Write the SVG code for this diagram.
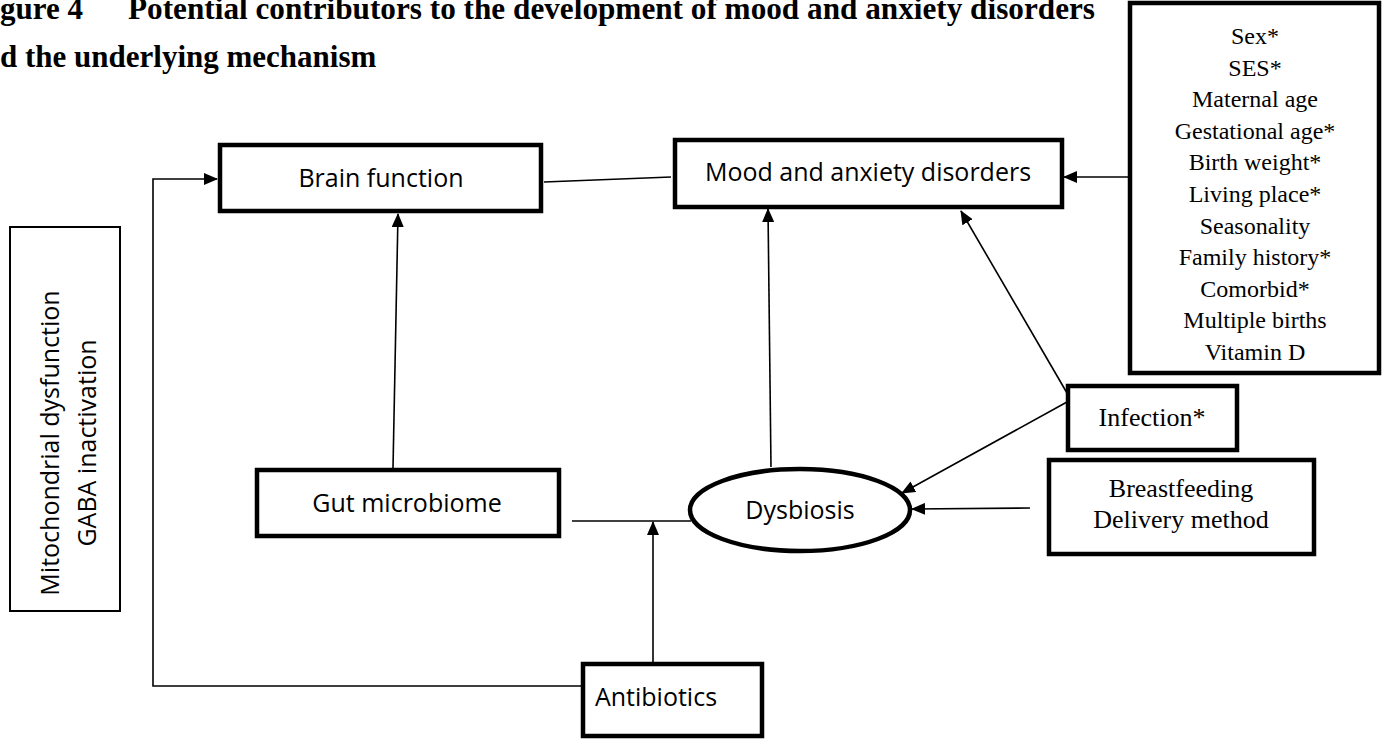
<svg xmlns="http://www.w3.org/2000/svg" width="1384" height="740" viewBox="0 0 1384 740">
<style>
.box{fill:#fff;stroke:#000;stroke-width:4.5}
.thin{fill:#fff;stroke:#000;stroke-width:2}
.sans{font-family:"Open Sans","Liberation Sans",sans-serif;font-size:25px;fill:#000;text-anchor:middle}
.serif{font-family:"Liberation Serif","Times New Roman",serif;font-size:24px;fill:#000;text-anchor:middle}
.title{font-family:"Liberation Serif","Times New Roman",serif;font-size:31px;font-weight:bold;fill:#000}
.con{fill:none;stroke:#000;stroke-width:1.6}
</style>
<defs>
<marker id="arr" markerUnits="userSpaceOnUse" markerWidth="14" markerHeight="12" refX="13" refY="6" orient="auto">
<path d="M0,0 L14,6 L0,12 z" fill="#000"/>
</marker>
</defs>
<rect width="1384" height="740" fill="#fff"/>
<g id="title">
<text class="title" x="0" y="19">gure 4</text>
<text class="title" x="128" y="19" textLength="967" lengthAdjust="spacingAndGlyphs">Potential contributors to the development of mood and anxiety disorders</text>
<text class="title" x="0" y="67">d the underlying mechanism</text>
</g>
<g id="connectors">
<polyline class="con" points="583,686 153,686 153,179 217,179" marker-end="url(#arr)"/>
<line class="con" x1="544" y1="182" x2="671" y2="177"/>
<line class="con" x1="1129" y1="177" x2="1064" y2="177" marker-end="url(#arr)"/>
<line class="con" x1="393" y1="468" x2="398" y2="214" marker-end="url(#arr)"/>
<line class="con" x1="771" y1="467" x2="768" y2="209" marker-end="url(#arr)"/>
<line class="con" x1="1067" y1="393" x2="961" y2="211" marker-end="url(#arr)"/>
<line class="con" x1="1067" y1="402" x2="902" y2="493" marker-end="url(#arr)"/>
<line class="con" x1="1030" y1="508" x2="912" y2="509" marker-end="url(#arr)"/>
<line class="con" x1="572" y1="521" x2="691" y2="521"/>
<line class="con" x1="653" y1="663" x2="653" y2="522" marker-end="url(#arr)"/>
</g>
<g id="brain">
<rect class="box" x="220" y="145" width="321" height="66"/>
<text class="sans" x="381" y="187">Brain function</text>
</g>
<g id="mood">
<rect class="box" x="675" y="140" width="387" height="67"/>
<text class="sans" x="868" y="181">Mood and anxiety disorders</text>
</g>
<g id="factors">
<rect class="box" x="1130" y="3" width="249" height="370"/>
<text class="serif" x="1255" y="44">Sex*</text>
<text class="serif" x="1255" y="76">SES*</text>
<text class="serif" x="1255" y="107">Maternal age</text>
<text class="serif" x="1255" y="139">Gestational age*</text>
<text class="serif" x="1255" y="170">Birth weight*</text>
<text class="serif" x="1255" y="202">Living place*</text>
<text class="serif" x="1255" y="234">Seasonality</text>
<text class="serif" x="1255" y="265">Family history*</text>
<text class="serif" x="1255" y="297">Comorbid*</text>
<text class="serif" x="1255" y="328">Multiple births</text>
<text class="serif" x="1255" y="360">Vitamin D</text>
</g>
<g id="mechanism">
<rect class="thin" x="10" y="227" width="110" height="384"/>
<g transform="translate(0,443) rotate(-90)">
<text class="sans" x="0" y="59">Mitochondrial dysfunction</text>
<text class="sans" x="0" y="96">GABA inactivation</text>
</g>
</g>
<g id="gut">
<rect class="box" x="257" y="470" width="302" height="66"/>
<text class="sans" x="407" y="512">Gut microbiome</text>
</g>
<g id="dysbiosis">
<ellipse cx="800" cy="510" rx="110" ry="41" fill="#fff" stroke="#000" stroke-width="4.5"/>
<text class="sans" x="800" y="519">Dysbiosis</text>
</g>
<g id="infection">
<rect class="box" x="1068" y="386" width="169" height="64"/>
<text class="serif" style="font-size:26px" x="1152" y="426">Infection*</text>
</g>
<g id="feeding">
<rect class="box" x="1049" y="460" width="265" height="94"/>
<text class="serif" style="font-size:26px" x="1181" y="497">Breastfeeding</text>
<text class="serif" style="font-size:26px" x="1181" y="528">Delivery method</text>
</g>
<g id="antibiotics">
<rect class="box" x="583" y="664" width="179" height="72"/>
<text class="sans" x="656" y="706">Antibiotics</text>
</g>
</svg>
